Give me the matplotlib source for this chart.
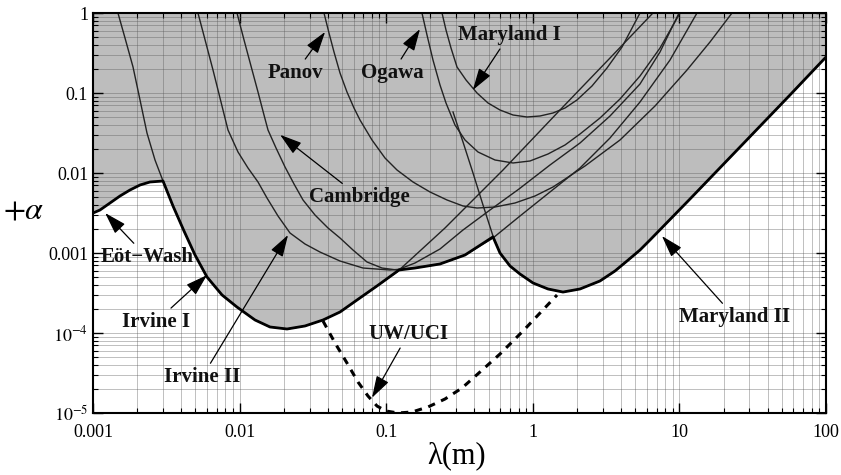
import matplotlib
matplotlib.use('Agg')
import matplotlib.pyplot as plt
import numpy as np
from matplotlib.ticker import LogLocator, NullFormatter

plt.rcParams['font.family'] = ['Liberation Serif', 'DejaVu Serif']
plt.rcParams['mathtext.fontset'] = 'stix'

# limits (lambda in m, alpha)
irvine1_x = [0.00148, 0.001653, 0.001875, 0.002093, 0.002335, 0.002648, 0.003003,
             0.003513, 0.004176, 0.004965, 0.005993, 0.007586, 0.0096, 0.01274,
             0.01612, 0.02106, 0.02793, 0.03706, 0.04841, 0.06322, 0.08653,
             0.1185, 0.2518, 0.6262, 1.533, 3.363, 6.6]
irvine1_y = [1.0, 0.487, 0.2113, 0.0818, 0.0316, 0.01454, 0.00794,
             0.00387, 0.001884, 0.000944, 0.000501, 0.000299, 0.000211, 0.0001454,
             0.0001189, 0.0001122, 0.0001224, 0.0001454, 0.000183, 0.0002585, 0.000387,
             0.000579, 0.002054, 0.0109, 0.0613, 0.2738, 1.0]

irvine2_x = [0.0052, 0.005627, 0.006087, 0.006584, 0.007124, 0.007704, 0.008334,
             0.009752, 0.01141, 0.01335, 0.01538, 0.01828, 0.02207, 0.02793,
             0.03535, 0.04841, 0.06946, 0.1061, 0.1572, 0.2328, 0.3448, 0.5351,
             0.8178, 1.31, 2.099, 3.363, 5.386, 8.63, 13.18]
irvine2_y = [1.0, 0.5788, 0.335, 0.1939, 0.109, 0.0613, 0.03448,
             0.0183, 0.01155, 0.00772, 0.004869, 0.0029, 0.001778, 0.001296,
             0.001028, 0.000794, 0.000649, 0.000613, 0.000649, 0.000729, 0.000944,
             0.00154, 0.0029, 0.00579, 0.01155, 0.0274, 0.0772, 0.2585, 1.0]

cambridge_x = [0.0096, 0.01072, 0.01196, 0.01335, 0.01467, 0.01562, 0.01772,
               0.02041, 0.0235, 0.02707, 0.03268, 0.04009, 0.04841, 0.05935,
               0.07396, 0.09363, 0.1185, 0.1572, 0.2328, 0.3341, 0.5105, 0.8051,
               1.31, 2.099, 3.363, 5.386, 7.375, 9.94]
cambridge_y = [1.0, 0.4597, 0.2175, 0.1029, 0.05309, 0.03448, 0.02054,
               0.01189, 0.00729, 0.0046, 0.002985, 0.002054, 0.00154, 0.00109,
               0.000772, 0.000649, 0.000613, 0.00075, 0.001122, 0.001939, 0.003447,
               0.00631, 0.01259, 0.02371, 0.0516, 0.1296, 0.3255, 1.0]

panov_x = [0.03764, 0.04072, 0.04405, 0.04841, 0.05401, 0.06031, 0.06626,
           0.08001, 0.09812, 0.1185, 0.1523, 0.199, 0.2598, 0.3341, 0.4163,
           0.5523, 0.7562, 1.035, 1.373, 2.271, 3.934, 6.818, 11.27, 16.17, 22.85]
panov_y = [1.0, 0.5623, 0.3255, 0.1778, 0.1029, 0.0649, 0.04597,
           0.02585, 0.0154, 0.0109, 0.00772, 0.00579, 0.0046, 0.00387, 0.00365,
           0.003758, 0.004217, 0.005158, 0.006683, 0.01224, 0.02585, 0.06879,
           0.1939, 0.4341, 1.0]

ogawa_x = [0.1754, 0.1898, 0.2085, 0.2328, 0.2558, 0.2946, 0.3448, 0.4229,
           0.5523, 0.7328, 0.957, 1.27, 1.658, 2.099, 2.873, 3.934, 5.386,
           7.375, 10.1]
ogawa_y = [1.0, 0.5309, 0.2585, 0.1259, 0.075, 0.03981, 0.02585, 0.0183,
           0.01454, 0.01334, 0.01413, 0.01728, 0.02239, 0.03073, 0.0487, 0.08414,
           0.1631, 0.3652, 1.0]

maryland1_x = [0.2403, 0.2558, 0.2767, 0.3041, 0.3503, 0.4163, 0.4949, 0.5973,
               0.7328, 0.9129, 1.12, 1.373, 1.658, 2.002, 2.534, 3.207, 4.061,
               5.386]
maryland1_y = [1.0, 0.613, 0.3652, 0.2113, 0.1454, 0.1, 0.075, 0.0613,
               0.05309, 0.05012, 0.0516, 0.05623, 0.0649, 0.0818, 0.1224, 0.2054,
               0.3758, 1.0]

maryland2_x = [0.2856, 0.3341, 0.3909, 0.4574, 0.5351, 0.5973, 0.699, 0.8178,
               1.003, 1.27, 1.607, 2.099, 2.873, 3.637, 4.391, 5.386, 6.302,
               11.81, 25.91, 56.81, 100]
maryland2_y = [0.0579, 0.0244, 0.01, 0.003981, 0.001631, 0.001, 0.000688,
               0.000546, 0.000422, 0.000355, 0.000325, 0.000355, 0.000447,
               0.000596, 0.000794, 0.00109, 0.001454, 0.004732, 0.02113, 0.09441,
               0.2818]

uwuci_x = [0.03706, 0.04477, 0.05401, 0.06421, 0.07511, 0.08653, 0.09968,
           0.1204, 0.15, 0.1928, 0.2518, 0.3289, 0.4363, 0.5973, 0.8574, 1.12,
           1.463]
uwuci_y = [0.0001413, 7.499e-5, 4.217e-5, 2.441e-5, 1.631e-5, 1.223e-5,
           1.059e-5, 1.0e-5, 1.029e-5, 1.189e-5, 1.496e-5, 2.054e-5, 3.255e-5,
           5.463e-5, 0.0001059, 0.0001778, 0.0002985]

# combined limit: Eot-Wash, then lower parts of Irvine I, Irvine II, Maryland II
limit_x = [0.001, 0.001116, 0.001306, 0.001528, 0.001788, 0.002093, 0.002448,
           0.003003, 0.003513, 0.004176, 0.004965, 0.005993, 0.007586, 0.0096,
           0.01274, 0.01612, 0.02106, 0.02793, 0.03706, 0.04841, 0.06322,
           0.08653, 0.1223, 0.1572, 0.2328, 0.3448, 0.5351, 0.5973, 0.699,
           0.8178, 1.003, 1.27, 1.607, 2.099, 2.873, 3.637, 4.391, 5.386, 6.302,
           11.81, 25.91, 56.81, 100]
limit_y = [0.00316, 0.003447, 0.004217, 0.005158, 0.006131, 0.007079, 0.00772,
           0.00794, 0.00387, 0.001884, 0.000944, 0.000501, 0.000299, 0.000211,
           0.0001454, 0.0001189, 0.0001122, 0.0001224, 0.0001454, 0.000183,
           0.0002585, 0.000387, 0.000613, 0.000649, 0.000729, 0.000944, 0.00159,
           0.001, 0.000688, 0.000546, 0.000422, 0.000355, 0.000325, 0.000355,
           0.000447, 0.000596, 0.000794, 0.00109, 0.001454, 0.004732, 0.02113,
           0.09441, 0.2818]

x_ticks = [0.001, 0.01, 0.1, 1, 10, 100]
x_labels = ['0.001', '0.01', '0.1', '1', '10', '100']
y_ticks = [1e-5, 1e-4, 1e-3, 1e-2, 1e-1, 1]
y_labels = [r'$10^{-5}$', r'$10^{-4}$', '0.001', '0.01', '0.1', '1']

# label, text position, arrow tip
notes = [
    ('Panov', (0.0239, 0.178), (0.0383, 0.58)),
    ('Ogawa', (0.110, 0.178), (0.17, 0.63)),
    ('Maryland I', (0.69, 0.53), (0.39, 0.109)),
    ('Cambridge', (0.066, 0.005), (0.0189, 0.030)),
    ('Eöt\u2212Wash', (0.00233, 8.9e-4), (0.00121, 0.00316)),
    ('Irvine I', (0.00269, 1.38e-4), (0.006, 5.3e-4)),
    ('Irvine II', (0.00554, 2.8e-5), (0.0214, 1.68e-3)),
    ('UW/UCI', (0.141, 9.7e-5), (0.080, 1.55e-5)),
    ('Maryland II', (23.9, 1.58e-4), (7.6, 1.63e-3)),
]

fig = plt.figure(figsize=(8.41, 4.75), dpi=100)
ax = fig.add_axes([93 / 841, 1 - 413 / 475, 733 / 841, 400 / 475])
ax.set_xscale('log')
ax.set_yscale('log')

ax.fill_between(limit_x, limit_y, 1, color='#bdbdbd', lw=0, zorder=0.2)

thin = [(irvine1_x, irvine1_y), (irvine2_x, irvine2_y),
        (cambridge_x, cambridge_y), (panov_x, panov_y), (ogawa_x, ogawa_y),
        (maryland1_x, maryland1_y), (maryland2_x, maryland2_y)]
for xs, ys in thin:
    ax.plot(xs, ys, color='#222222', lw=1.0, zorder=2)
ax.plot(limit_x, limit_y, color='black', lw=2.0, zorder=3)
ax.plot(uwuci_x, uwuci_y, color='black', lw=2.2, ls=(0, (2.4, 2.2)), zorder=3)

for label, txt, tip in notes:
    ax.annotate(label, xy=tip, xytext=txt, ha='center', va='center',
                fontsize=15, fontweight='bold', color='#111111', zorder=5,
                arrowprops=dict(arrowstyle='-|>,head_length=0.9,head_width=0.28',
                                mutation_scale=15, color='black', lw=0.9,
                                shrinkA=1, shrinkB=0))

ax.set_xlim(1e-3, 100)
ax.set_ylim(1e-5, 1)
ax.set_xticks(x_ticks)
ax.set_xticklabels(x_labels)
ax.set_yticks(y_ticks)
ax.set_yticklabels(y_labels)
ax.xaxis.set_minor_locator(LogLocator(base=10, subs=np.arange(2, 10), numticks=20))
ax.yaxis.set_minor_locator(LogLocator(base=10, subs=np.arange(2, 10), numticks=20))
ax.xaxis.set_minor_formatter(NullFormatter())
ax.yaxis.set_minor_formatter(NullFormatter())
ax.tick_params(which='both', direction='in', top=True, right=True, labelsize=13)
ax.tick_params(axis='x', which='major', pad=8)
ax.tick_params(which='major', length=7, width=1.0)
ax.tick_params(which='minor', length=3.5, width=0.8)
ax.set_axisbelow(True)
ax.grid(which='both', color='#555555', lw=0.7, alpha=0.38)
for s in ax.spines.values():
    s.set_linewidth(1.5)

fig.text(457 / 841, 1 - 456 / 475, 'λ(m)', fontsize=22, ha='center', va='center')
fig.text(24 / 841, 1 - 211 / 475, r'$+\alpha$', fontsize=23, ha='center', va='center')

fig.savefig('out.png', dpi=100)
